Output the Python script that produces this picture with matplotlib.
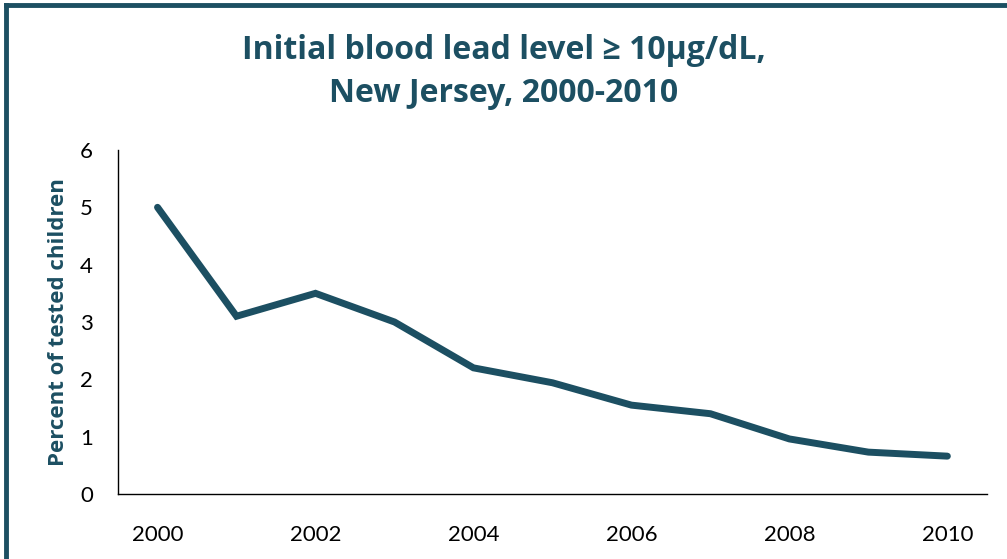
import matplotlib
matplotlib.use("Agg")
import matplotlib.pyplot as plt
from matplotlib.lines import Line2D

plt.rcParams["font.family"] = ["Lato", "DejaVu Sans"]

TEAL = "#1c4f62"
BOLD_FONT = ["Open Sans", "DejaVu Sans"]

years = [2000, 2001, 2002, 2003, 2004, 2005, 2006, 2007, 2008, 2009, 2010]
pct_tested = [5.0, 3.1, 3.5, 3.0, 2.2, 1.94, 1.55, 1.4, 0.96, 0.73, 0.66]
year_ticks = [2000, 2002, 2004, 2006, 2008, 2010]
y_ticks = [0, 1, 2, 3, 4, 5, 6]

fig = plt.figure(figsize=(10.07, 5.59), dpi=100)
ax = fig.add_axes([0.1172, 0.1163, 0.8628, 0.6154])

ax.plot(years, pct_tested, color=TEAL, linewidth=5, solid_capstyle="round",
        solid_joinstyle="miter")

ax.set_xlim(1999.5, 2010.5)
ax.set_ylim(0, 6)
ax.set_xticks(year_ticks)
ax.set_yticks(y_ticks)
ax.tick_params(length=0, labelsize=16, colors="black")
ax.tick_params(axis="x", pad=22)
ax.tick_params(axis="y", pad=18)

for side in ["top", "right"]:
    ax.spines[side].set_visible(False)
for side in ["left", "bottom"]:
    ax.spines[side].set_linewidth(1.0)
    ax.spines[side].set_color("black")

ax.set_ylabel("Percent of tested children", fontsize=16, fontweight="bold",
              family=BOLD_FONT, color=TEAL, labelpad=8)

fig.text(0.5, 0.871, "Initial blood lead level ≥ 10μg/dL,\nNew Jersey, 2000-2010",
         ha="center", va="center", fontsize=23, fontweight="bold", color=TEAL,
         family=BOLD_FONT, linespacing=1.42)

# frame: only top and left edges show, the rest is cut off
fig.lines.append(Line2D([0.006, 1.0], [0.9915, 0.9915], transform=fig.transFigure,
                        color=TEAL, linewidth=3.5))
fig.lines.append(Line2D([0.006, 0.006], [0.0, 0.9915], transform=fig.transFigure,
                        color=TEAL, linewidth=3.5, solid_capstyle="projecting"))

fig.savefig("out.png", dpi=100)
